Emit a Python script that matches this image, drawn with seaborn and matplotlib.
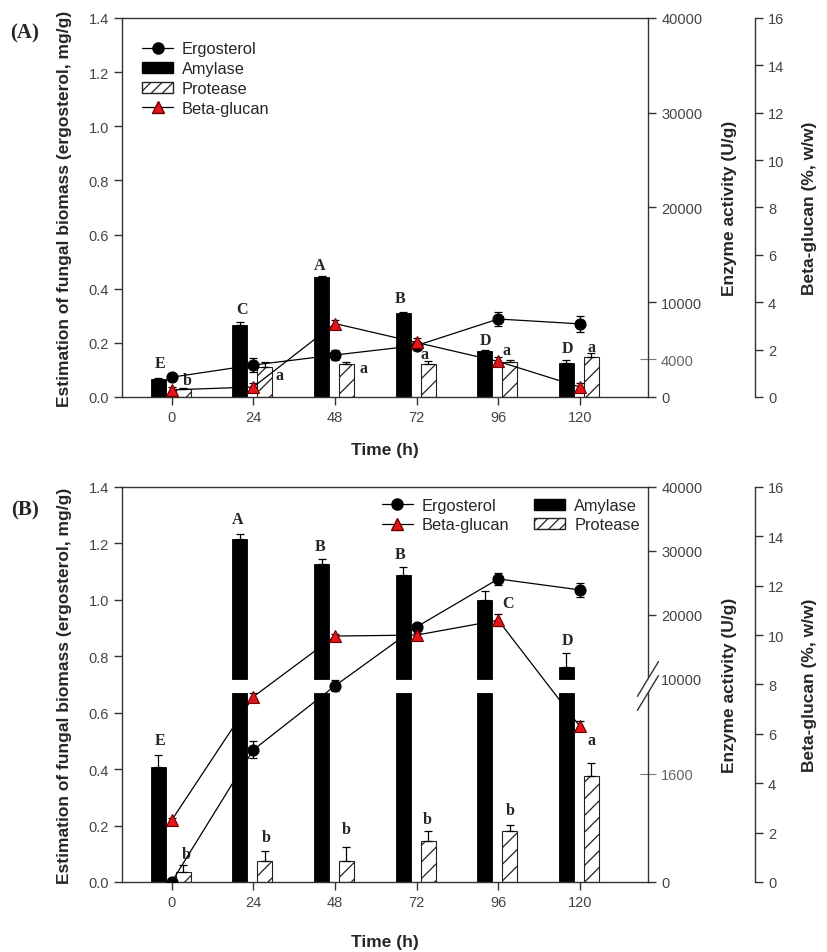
import numpy as np
import matplotlib
matplotlib.use("Agg")
import matplotlib.pyplot as plt
import seaborn as sns
from matplotlib.lines import Line2D
from matplotlib.patches import Patch, Polygon

# ---------------- data ----------------
time_h = [0, 24, 48, 72, 96, 120]

# Panel A
a_ergosterol = [0.073, 0.118, 0.155, 0.190, 0.288, 0.270]
a_ergosterol_err = [0.015, 0.025, 0.02, 0.01, 0.025, 0.03]
a_amylase = [1900, 7600, 12700, 8900, 4870, 3600]
a_amylase_err = [100, 300, 100, 100, 100, 250]
a_protease = [850, 3200, 3500, 3500, 3700, 4200]
a_protease_err = [100, 450, 200, 250, 250, 400]
a_betaglucan = [0.30, 0.42, 3.1, 2.3, 1.5, 0.42]
a_betaglucan_err = [0.1, 0.15, 0.15, 0.2, 0.2, 0.15]
a_amylase_letters = ["E", "C", "A", "B", "D", "D"]
a_protease_letters = ["b", "a", "a", "a", "a", "a"]

# Panel B
b_ergosterol = [0.0, 0.468, 0.695, 0.904, 1.074, 1.035]
b_ergosterol_err = [0.01, 0.03, 0.02, 0.01, 0.02, 0.025]
b_amylase = [1700, 31800, 27900, 26200, 22400, 11900]
b_amylase_err = [180, 900, 800, 1250, 1400, 2200]
b_protease = [150, 315, 315, 600, 750, 1570]
b_protease_err = [105, 150, 210, 150, 90, 195]
b_betaglucan = [2.5, 7.5, 9.96, 10.0, 10.6, 6.3]
b_betaglucan_err = [0.1, 0.15, 0.1, 0.1, 0.25, 0.2]
b_amylase_letters = ["E", "A", "B", "B", "C", "D"]
b_protease_letters = ["b", "b", "b", "b", "b", "a"]

left_ticks = [0.0, 0.2, 0.4, 0.6, 0.8, 1.0, 1.2, 1.4]
enzyme_ticks = [0, 10000, 20000, 30000, 40000]
a_enzyme_extra_tick = [4000]
b_enzyme_extra_tick = [1600]
beta_ticks = [0, 2, 4, 6, 8, 10, 12, 14, 16]

# ---------------- layout / style ----------------
AMY_DX = -3.95
PRO_DX = 3.37
BAR_W = 4.4
LOW_MAX, UP_MIN = 2800, 10000
F_LOW, F_UP = 0.4785, 0.5139

a_amy_off = [(2, 15), (2, 13), (-2, 11), (-3, 14), (1, 10), (1, 12)]
a_pro_off = [(4, 8), (15, -13), (17, -6), (-4, 7), (-3, 10), (0, 6)]
b_amy_off = [(2, 15), (-2, 15), (-1, 13), (-3, 13), (23, -12), (1, 13)]
b_pro_off = [(3, 11), (1, 14), (0, 18), (-1, 12), (1, 15), (0, 23)]

sns.set_theme(style="ticks")
plt.rcParams["font.family"] = ["Liberation Sans", "DejaVu Sans"]
plt.rcParams["hatch.linewidth"] = 0.9

TICK_FS = 10.5
LABEL_FS = 12.5
LEG_FS = 11.8
SPINE_C = "#333333"
TICK_C = "#444444"
SERIF = ["Liberation Serif", "DejaVu Serif"]

fig = plt.figure(figsize=(8.27, 9.53), dpi=100)


def broken_funcs():
    xp = np.array([-40000.0, 0.0, LOW_MAX, UP_MIN, 40000.0, 80000.0])
    fp = np.array([-F_LOW * 40000 / LOW_MAX, 0.0, F_LOW, F_UP, 1.0,
                   1.0 + (1 - F_UP) * 40000 / 30000])
    return (lambda v: np.interp(v, xp, fp), lambda f: np.interp(f, fp, xp))


def draw_panel(rect, ergo, ergo_err, amy, amy_err, pro, pro_err, beta, beta_err,
               amy_letters, pro_letters, amy_off, pro_off, broken, extra_tick,
               panel_label, legend_kw, xlabel_y):
    ax = fig.add_axes(rect)
    ax_enz = ax.twinx()
    ax_beta = ax.twinx()
    ax_enz.set_zorder(1)
    ax.set_zorder(2)
    ax_beta.set_zorder(3)
    ax.patch.set_visible(False)
    ax_beta.patch.set_visible(False)

    # enzyme axis
    if broken:
        ax_enz.set_yscale("function", functions=broken_funcs())
    ax_enz.set_ylim(0, 40000)
    ax.set_xlim(-14.6, 140)
    t = np.array(time_h, dtype=float)
    xa = t + AMY_DX
    xp_ = t + PRO_DX
    amy = np.array(amy, float)
    pro = np.array(pro, float)
    if broken:
        ax_enz.bar(xa, np.minimum(amy, LOW_MAX), width=BAR_W, color="black",
                   edgecolor="black", linewidth=0.6)
        hi = amy > UP_MIN
        ax_enz.bar(xa[hi], amy[hi] - UP_MIN, bottom=UP_MIN, width=BAR_W,
                   color="black", edgecolor="black", linewidth=0.6)
    else:
        ax_enz.bar(xa, amy, width=BAR_W, color="black", edgecolor="black",
                   linewidth=0.6)
    ax_enz.errorbar(xa, amy, yerr=[np.zeros_like(amy), amy_err], fmt="none",
                    ecolor="black", elinewidth=0.9, capsize=3.2, capthick=0.9)
    ax_enz.bar(xp_, pro, width=BAR_W, color="white", edgecolor="#222222",
               linewidth=0.8, hatch="//")
    ax_enz.errorbar(xp_, pro, yerr=[np.zeros_like(pro), pro_err], fmt="none",
                    ecolor="black", elinewidth=0.9, capsize=3.2, capthick=0.9)

    for i, lab in enumerate(amy_letters):
        ax_enz.annotate(lab, xy=(xa[i], amy[i] + amy_err[i]), xytext=amy_off[i],
                        textcoords="offset pixels", ha="center", va="center",
                        fontfamily=SERIF, fontweight="bold", fontsize=11.5)
    for i, lab in enumerate(pro_letters):
        ax_enz.annotate(lab, xy=(xp_[i], pro[i] + pro_err[i]), xytext=pro_off[i],
                        textcoords="offset pixels", ha="center", va="center",
                        fontfamily=SERIF, fontweight="bold", fontsize=11.5)

    # ergosterol (left axis)
    ax.errorbar(time_h, ergo, yerr=ergo_err, fmt="none", ecolor="black",
                elinewidth=0.9, capsize=3.2, capthick=0.9, zorder=2)
    sns.lineplot(x=time_h, y=ergo, ax=ax, color="black", linewidth=0.9,
                 marker="o", markersize=8, markerfacecolor="black",
                 markeredgecolor="black", legend=False, zorder=3)
    ax.set_ylim(0, 1.4)

    # beta-glucan axis
    ax_beta.errorbar(time_h, beta, yerr=beta_err, fmt="none", ecolor="black",
                     elinewidth=0.9, capsize=3.2, capthick=0.9, zorder=2)
    sns.lineplot(x=time_h, y=beta, ax=ax_beta, color="black", linewidth=0.9,
                 marker="^", markersize=8.5, markerfacecolor="#e3141b",
                 markeredgecolor="#6a0000", markeredgewidth=0.8,
                 legend=False, zorder=3)
    ax_beta.set_ylim(0, 16)

    # spines
    for s in ["left", "bottom", "top"]:
        ax.spines[s].set_visible(True)
        ax.spines[s].set_color(SPINE_C)
        ax.spines[s].set_linewidth(1.0)
    ax.spines["right"].set_visible(False)
    for s in ["left", "bottom", "top"]:
        ax_enz.spines[s].set_visible(False)
        ax_beta.spines[s].set_visible(False)
    ax_enz.spines["right"].set_visible(True)
    ax_enz.spines["right"].set_color(SPINE_C)
    ax_enz.spines["right"].set_linewidth(1.0)
    ax_beta.spines["right"].set_visible(True)
    ax_beta.spines["right"].set_position(("axes", 1.203))
    ax_beta.spines["right"].set_color(SPINE_C)
    ax_beta.spines["right"].set_linewidth(1.0)

    # ticks
    ax.set_xticks(time_h)
    ax.set_xticklabels([str(v) for v in time_h])
    ax.set_yticks(left_ticks)
    ax.set_yticklabels([f"{v:.1f}" for v in left_ticks])
    ax.tick_params(axis="both", direction="out", length=6, width=1.0,
                   colors=SPINE_C, labelcolor=TICK_C, labelsize=TICK_FS,
                   top=False, right=False)
    ax_enz.set_yticks(enzyme_ticks)
    ax_enz.set_yticklabels([str(v) for v in enzyme_ticks])
    ax_enz.set_yticks(extra_tick, minor=True)
    ax_enz.set_yticklabels([str(v) for v in extra_tick], minor=True)
    ax_enz.tick_params(axis="y", which="major", direction="out", length=6,
                       width=1.0, colors=SPINE_C, labelcolor=TICK_C,
                       labelsize=TICK_FS)
    ax_enz.tick_params(axis="y", which="minor", direction="inout", length=12,
                       width=0.8, colors="#777777", labelcolor="#666666",
                       labelsize=TICK_FS)
    ax_beta.set_yticks(beta_ticks)
    ax_beta.set_yticklabels([str(v) for v in beta_ticks])
    ax_beta.tick_params(axis="y", direction="out", length=6, width=1.0,
                        colors=SPINE_C, labelcolor=TICK_C, labelsize=TICK_FS)
    ax_beta.tick_params(axis="y", which="minor", right=False)

    # labels
    ax.set_ylabel("Estimation of fungal biomass (ergosterol, mg/g)",
                  fontsize=LABEL_FS, fontweight="bold")
    ax.yaxis.set_label_coords(-0.095, 0.5)
    ax.set_xlabel("Time (h)", fontsize=LABEL_FS, fontweight="bold")
    ax.xaxis.set_label_coords(0.5, xlabel_y)
    ax_enz.set_ylabel("Enzyme activity (U/g)", fontsize=LABEL_FS,
                      fontweight="bold", rotation=90)
    ax_enz.yaxis.set_label_coords(1.141, 0.5)
    ax_beta.set_ylabel("Beta-glucan (%, w/w)", fontsize=LABEL_FS,
                       fontweight="bold", rotation=90)
    ax_beta.yaxis.set_label_coords(1.293, 0.5)

    # break marks
    if broken:
        dx, dy = 0.02, 0.044
        poly = Polygon([(1 - dx, F_LOW - dy), (1 + dx, F_LOW + dy),
                        (1 + dx, F_UP + dy), (1 - dx, F_UP - dy)],
                       closed=True, transform=ax_enz.transAxes, facecolor="white",
                       edgecolor="none", clip_on=False, zorder=5)
        ax_enz.add_patch(poly)
        for f in (F_LOW, F_UP):
            ax_enz.add_line(Line2D([1 - dx, 1 + dx], [f - dy, f + dy],
                                   transform=ax_enz.transAxes, color=SPINE_C,
                                   linewidth=1.0, clip_on=False, zorder=6))

    # panel label
    fig.text(panel_label[1], panel_label[2], panel_label[0], fontfamily=SERIF,
             fontweight="bold", fontsize=15, ha="center", va="center")

    # legend
    h_ergo = Line2D([], [], color="black", linewidth=0.9, marker="o",
                    markersize=8, markerfacecolor="black")
    h_amy = Patch(facecolor="black", edgecolor="black")
    h_pro = Patch(facecolor="white", edgecolor="#222222", hatch="///")
    h_beta = Line2D([], [], color="black", linewidth=0.9, marker="^",
                    markersize=8.5, markerfacecolor="#e3141b",
                    markeredgecolor="#6a0000")
    handles = {"Ergosterol": h_ergo, "Amylase": h_amy, "Protease": h_pro,
               "Beta-glucan": h_beta}
    order = legend_kw.pop("order")
    ax_beta.legend([handles[k] for k in order], order, frameon=False,
                   fontsize=LEG_FS, borderpad=0, borderaxespad=0,
                   handlelength=1.9, handletextpad=0.55,
                   **legend_kw)
    return ax


draw_panel([0.1475, 0.5824, 0.636, 0.3977], a_ergosterol, a_ergosterol_err,
           a_amylase, a_amylase_err, a_protease, a_protease_err,
           a_betaglucan, a_betaglucan_err, a_amylase_letters,
           a_protease_letters, a_amy_off, a_pro_off, False,
           a_enzyme_extra_tick, ("(A)", 25 / 827, 1 - 33 / 953),
           dict(order=["Ergosterol", "Amylase", "Protease", "Beta-glucan"],
                loc="upper left", bbox_to_anchor=(0.038, 0.938),
                labelspacing=0.3), -0.119)

draw_panel([0.1475, 0.0735, 0.636, 0.4145], b_ergosterol, b_ergosterol_err,
           b_amylase, b_amylase_err, b_protease, b_protease_err,
           b_betaglucan, b_betaglucan_err, b_amylase_letters,
           b_protease_letters, b_amy_off, b_pro_off, True,
           b_enzyme_extra_tick, ("(B)", 25 / 827, 1 - 510 / 953),
           dict(order=["Ergosterol", "Beta-glucan", "Amylase", "Protease"],
                loc="upper left", bbox_to_anchor=(0.494, 0.972), ncol=2,
                columnspacing=1.5, labelspacing=0.26), -0.131)

fig.savefig("out.png", dpi=100)
